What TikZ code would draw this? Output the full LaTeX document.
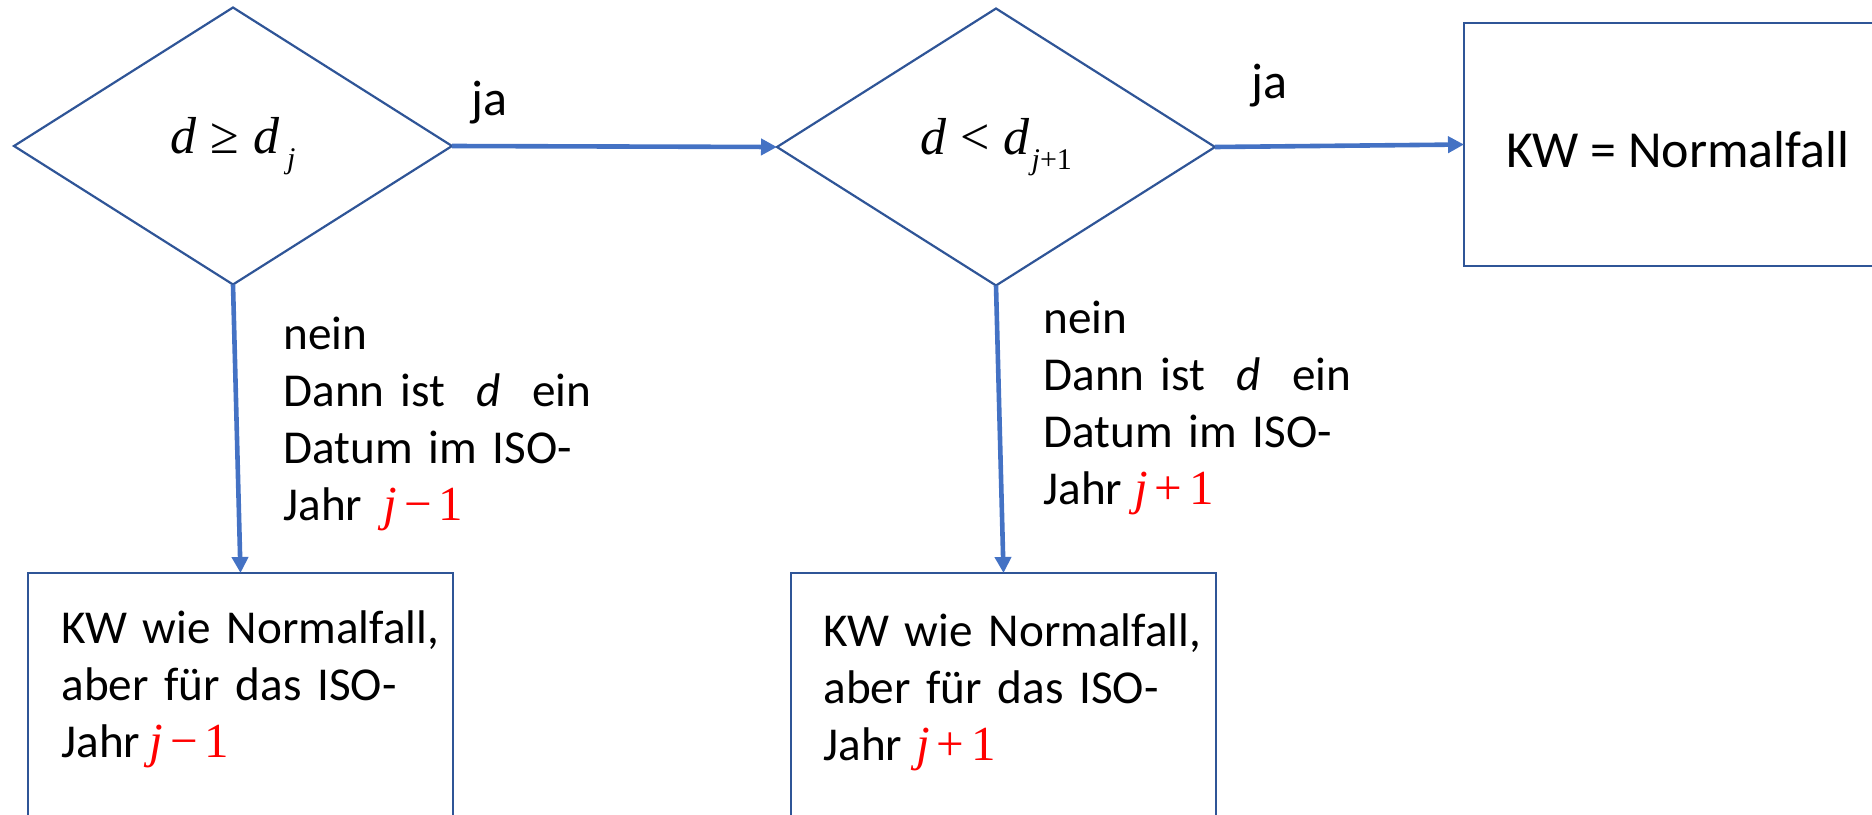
\documentclass[tikz,border=0pt]{standalone}
\usepackage{fontspec}
\setmainfont{Carlito}
\newfontfamily\tnr{Liberation Serif}
\usetikzlibrary{arrows.meta,shapes.geometric}
\definecolor{shapeblue}{HTML}{2F5597}
\definecolor{arrowblue}{HTML}{4472C4}
\tikzset{
 dia/.style={diamond, draw=shapeblue, line width=1.1pt, inner sep=0pt, outer sep=0pt,
   minimum width=219pt, minimum height=138.5pt, font=\fontsize{26}{30}\selectfont\tnr},
 box/.style={rectangle, draw=shapeblue, line width=1.1pt, inner sep=0pt, outer sep=0pt},
 arr/.style={draw=arrowblue, line width=2.3pt, -{Triangle[length=8pt,width=8pt]}},
 txt/.style={inner sep=0pt, anchor=base west, text width=220pt, align=left,
   font=\fontsize{23.6}{28.5}\selectfont},
 lbl/.style={inner sep=0pt, anchor=base west, font=\fontsize{25}{30}\selectfont},
}
\newcommand\redexpr[1]{{\tnr\color{red}\fontsize{24.5}{28.5}\selectfont\textit{j}\hspace{0.14em}#1\hspace{0.14em}1}}
\begin{document}
\begin{tikzpicture}[x=0.5pt,y=-0.5pt]
\useasboundingbox (0,0) rectangle (1872,814);
\clip (0,0) rectangle (1872,814);
% decisions
\node[dia] (d1) at (233,146) {\textit{d}\hspace{7pt}≥\hspace{7pt}\textit{d}\hspace{4pt}\raisebox{-7.5pt}{\fontsize{15}{15}\selectfont\textit{j}}};
\node[dia] (d2) at (996,147) {\textit{d}\hspace{7pt}<\hspace{7pt}\textit{d}\hspace{1pt}\raisebox{-7.5pt}{\fontsize{15}{15}\selectfont\textit{j}+1}};
% boxes
\node[box, minimum width=218pt, minimum height=121.5pt] (b3) at (1682,144.5) {};
\node[box, minimum width=212.5pt, minimum height=128.5pt] (b1) at (240.5,701.5) {};
\node[box, minimum width=212.5pt, minimum height=128.5pt] (b2) at (1003.5,701.5) {};
% texts
\node[lbl, font=\fontsize{26}{30}\selectfont] (t3) at (1506,167) {KW = Normalfall};
\node[txt] (t1) at (61,643) {\mbox{KW wie Normalfall,}\\aber für das ISO-\\Jahr\hspace{0.2em}\redexpr{−}};
\node[txt] (t2) at (823,646) {\mbox{KW wie Normalfall,}\\aber für das ISO-\\Jahr\hspace{0.3em}\redexpr{+}};
\node[txt] (n1) at (283,349) {nein\\Dann ist\ \ \textit{d}\ \ ein\\Datum im ISO-\\Jahr\hspace{0.45em}\redexpr{−}};
\node[txt] (n2) at (1043,333) {nein\\Dann ist\ \ \textit{d}\ \ ein\\Datum im ISO-\\Jahr\hspace{0.25em}\redexpr{+}};
\node[lbl] (ja1) at (471,115) {ja};
\node[lbl] (ja2) at (1251,98) {ja};
% connectors
\draw[arr] (d1.east) -- (d2.west);
\draw[arr] (d2.east) -- (b3.west);
\draw[arr] (d1.south) -- (b1.north);
\draw[arr] (d2.south) -- (b2.north);
\end{tikzpicture}
\end{document}
